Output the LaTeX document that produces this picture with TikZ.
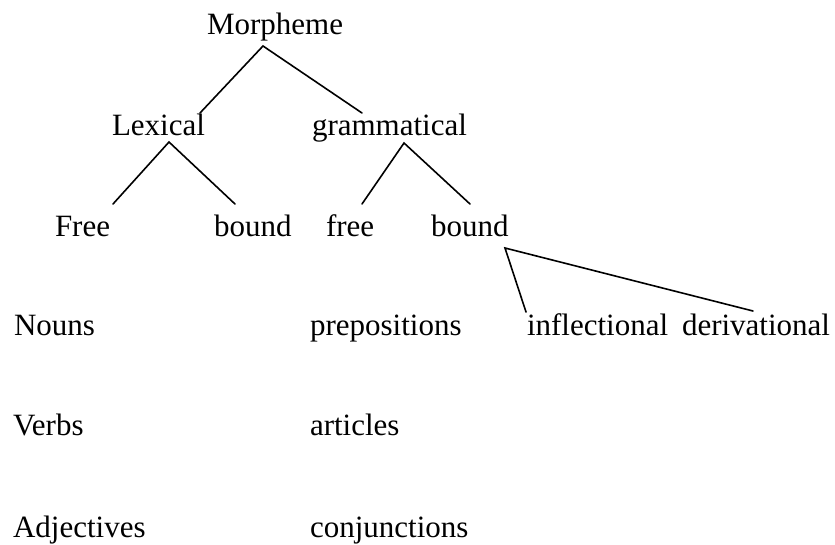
\documentclass[tikz,border=0pt]{standalone}
\usepackage{fontspec}
\setmainfont{Liberation Serif}
\usetikzlibrary{calc}
\begin{document}
\begin{tikzpicture}[x=1pt,y=-1pt,
  lbl/.style={anchor=base west,inner sep=0pt,outer sep=0pt,font=\fontsize{31}{37}\selectfont},
  conn/.style={line width=1.6pt,line cap=round}]
\useasboundingbox (0,0) rectangle (835,544);
\node[lbl] (M) at (207,34) {Morpheme};
\node[lbl] (L) at (112,135) {Lexical};
\node[lbl] (G) at (312,135) {grammatical};
\node[lbl] (LF) at (55,236) {Free};
\node[lbl] (LB) at (214,236) {bound};
\node[lbl] (GF) at (326,236) {free};
\node[lbl] (GB) at (431,236) {bound};
\node[lbl] (N) at (14,335) {Nouns};
\node[lbl] (P) at (310,335) {prepositions};
\node[lbl] (I) at (527,335) {inflectional};
\node[lbl] (D) at (682,335) {derivational};
\node[lbl] (V) at (13,435) {Verbs};
\node[lbl] (A) at (310,435) {articles};
\node[lbl] (Adj) at (13,537) {Adjectives};
\node[lbl] (C) at (310,537) {conjunctions};
% connectors
\draw[conn] ($(L.base west)+(88,-22)$) -- ($(M.base west)+(56,12)$) -- ($(G.base west)+(50,-22)$);
\draw[conn] ($(LF.base west)+(58,-32)$) -- ($(L.base west)+(57,7)$) -- ($(LB.base west)+(21,-32)$);
\draw[conn] ($(GF.base west)+(36,-32)$) -- ($(G.base west)+(92,8)$) -- ($(GB.base west)+(39,-32)$);
\draw[conn] ($(I.base west)+(-1,-23)$) -- ($(GB.base west)+(74,12)$) -- ($(D.base west)+(71,-24)$);
\end{tikzpicture}
\end{document}
